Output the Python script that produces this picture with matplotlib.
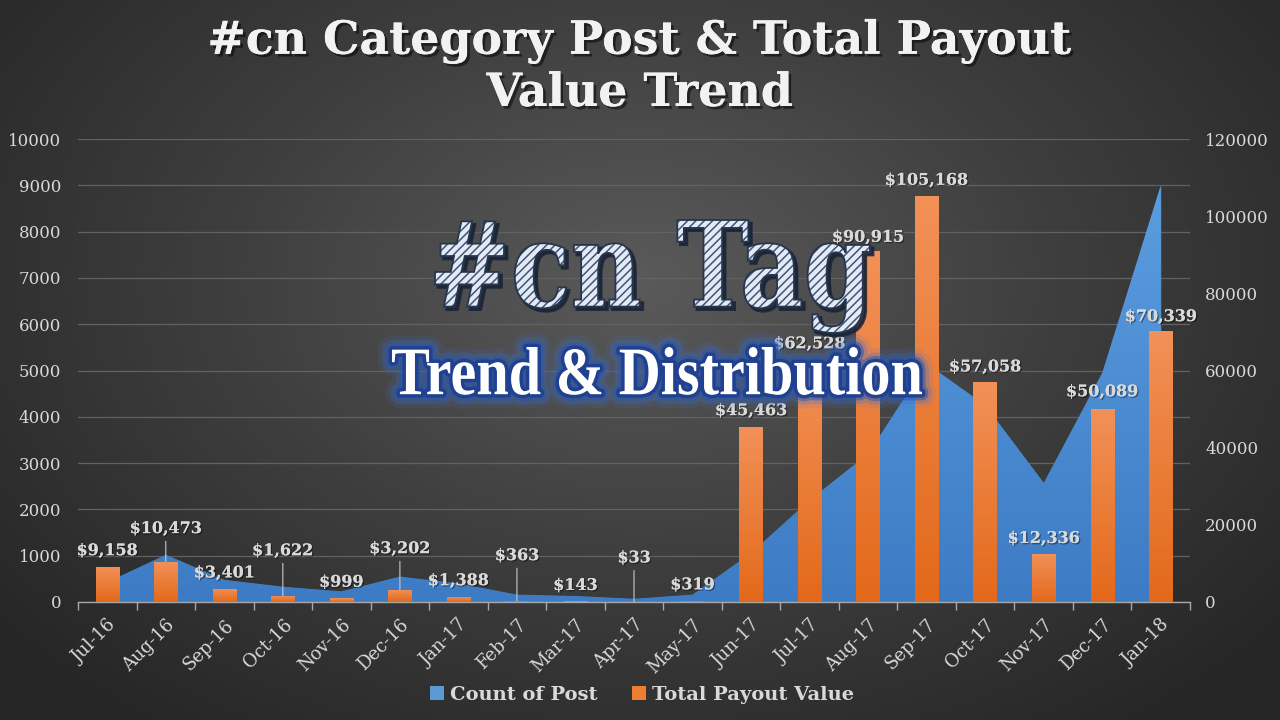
import numpy as np
import matplotlib
matplotlib.use("Agg")
import matplotlib.pyplot as plt
from matplotlib.textpath import TextPath
from matplotlib.font_manager import FontProperties
from matplotlib.patches import PathPatch, Patch
from matplotlib.transforms import Affine2D
from matplotlib.colors import LinearSegmentedColormap
import matplotlib.patheffects as pe

# ---------------- data ----------------
months = ["Jul-16", "Aug-16", "Sep-16", "Oct-16", "Nov-16", "Dec-16", "Jan-17",
          "Feb-17", "Mar-17", "Apr-17", "May-17", "Jun-17", "Jul-17", "Aug-17",
          "Sep-17", "Oct-17", "Nov-17", "Dec-17", "Jan-18"]
post_counts = [430, 1020, 480, 330, 230, 550, 400, 160, 130, 70, 160,
               1060, 2200, 3200, 5150, 4250, 2570, 4950, 9000]
payouts = [9158, 10473, 3401, 1622, 999, 3202, 1388, 363, 143, 33, 319,
           45463, 62528, 90915, 105168, 57058, 12336, 50089, 70339]
left_ticks = list(range(0, 10001, 1000))
right_ticks = list(range(0, 120001, 20000))
series_names = ["Count of Post", "Total Payout Value"]
title_lines = ["#cn Category Post & Total Payout", "Value Trend"]
banner_main = "#cn Tag"
banner_sub = "Trend & Distribution"
# label lift above bar top (pixels); large lifts get leader lines
label_lift_px = [16, 33, 16, 45, 16, 41, 16, 45, 16, 44, 16,
                 16, 17, 14, 16, 15, 16, 17, 14]

W, H = 1280, 720
plt.rcParams['hatch.linewidth'] = 1.1
TXT = '#d9d9d9'
SERIF = 'DejaVu Serif'

fig = plt.figure(figsize=(12.8, 7.2), dpi=100)

# ---------------- background ----------------
bg = fig.add_axes([0, 0, 1, 1], zorder=-10)
yy, xx = np.mgrid[0:H, 0:W]
r = np.sqrt(((xx - 640) / 830.0) ** 2 + ((yy - 280) / 560.0) ** 2)
r = np.clip(r, 0, 1)
bg_cmap = LinearSegmentedColormap.from_list('bg', ['#5a5a5a', '#3e3e3e', '#262626'])
bg.imshow(r, cmap=bg_cmap, aspect='auto', interpolation='bilinear')
bg.axis('off')

# ---------------- main axes ----------------
ax = fig.add_axes([78 / W, 1 - 602 / H, (1190 - 78) / W, (602 - 139) / H])
ax.set_facecolor('none')
ax2 = ax.twinx()
x = np.arange(len(months))

grad = np.linspace(0, 1, 256).reshape(-1, 1)

poly = ax.fill_between(x, post_counts, 0, color='#4a8fd8', lw=0, zorder=2)
area_cmap = LinearSegmentedColormap.from_list('a', ['#3d7cc4', '#5fa0e2'])
im = ax.imshow(grad, cmap=area_cmap, extent=(-0.5, len(months) - 0.5, 0, 10000),
               aspect='auto', origin='lower', zorder=2.1)
im.set_clip_path(poly.get_paths()[0], transform=ax.transData)

bars = ax2.bar(x, payouts, width=0.4, color='#ed7d31', zorder=3)
bar_cmap = LinearSegmentedColormap.from_list('b', ['#e3691a', '#f29158'])
for b in bars:
    gi = ax2.imshow(grad, cmap=bar_cmap,
                    extent=(b.get_x(), b.get_x() + b.get_width(), 0, b.get_height()),
                    aspect='auto', origin='lower', zorder=3.1)
    gi.set_clip_path(b)

ax.set_xlim(-0.5, len(months) - 0.5)
ax.set_ylim(0, 10000)
ax2.set_ylim(0, 120000)

ax.set_yticks(left_ticks)
ax2.set_yticks(right_ticks)
ax.yaxis.grid(True, color='#626262', lw=0.9)
ax.set_axisbelow(True)

for s in ['top', 'left', 'right']:
    ax.spines[s].set_visible(False)
for s in ax2.spines.values():
    s.set_visible(False)
ax.spines['bottom'].set_color('#a8a8a8')
ax.spines['bottom'].set_linewidth(1.0)

ax.set_xticks(x)
ax.set_xticklabels(months, rotation=45, ha='right', rotation_mode='anchor',
                   color=TXT, family=SERIF, size=13)
ax.tick_params(axis='x', which='major', length=0, pad=10)
ax.set_xticks(np.arange(-0.5, len(months)), minor=True)
ax.tick_params(axis='x', which='minor', length=6, color='#a8a8a8', width=1)
ax.tick_params(axis='y', length=0, pad=12, labelcolor=TXT)
ax2.tick_params(axis='y', length=0, pad=11, labelcolor=TXT)
for lab in ax.get_yticklabels() + ax2.get_yticklabels():
    lab.set_fontfamily(SERIF)
    lab.set_fontsize(12)

# data labels
lab_font = dict(family=SERIF, weight='bold', size=11.5)
for i, (xi, v) in enumerate(zip(x, payouts)):
    lift = label_lift_px[i]
    kw = dict(xy=(xi, v), xytext=(0, lift), textcoords='offset pixels',
              ha='center', va='center', color=TXT, zorder=8,
              path_effects=[pe.withSimplePatchShadow(offset=(1, -1), shadow_rgbFace='black', alpha=0.4),
                            pe.Normal()], **lab_font)
    if lift > 25:
        kw['arrowprops'] = dict(arrowstyle='-', color='#c8c8c8', lw=0.8,
                                shrinkA=1, shrinkB=0, relpos=(0.5, 0.0))
    ax2.annotate(f"${v:,}", **kw)

# legend
handles = [Patch(facecolor='#5b9bd5', edgecolor='none'),
           Patch(facecolor='#ed7d31', edgecolor='none')]
fig.legend(handles, series_names, loc='center', bbox_to_anchor=(642 / W, 1 - 695 / H),
           ncol=2, frameon=False,
           prop=FontProperties(family=SERIF, weight='bold', size=14),
           labelcolor=TXT, handlelength=0.7, handleheight=0.7,
           handletextpad=0.3, columnspacing=1.8)

# title
title_kw = dict(ha='center', va='center', color='#f2f2f2', family=SERIF,
                weight='bold', size=33,
                path_effects=[pe.withSimplePatchShadow(offset=(2, -2), shadow_rgbFace='black', alpha=0.5),
                              pe.Normal()])
fig.text(0.5, 1 - 41 / H, title_lines[0], **title_kw)
fig.text(0.5, 1 - 93 / H, title_lines[1], **title_kw)

# ---------------- overlay banner ----------------
ov = fig.add_axes([0, 0, 1, 1], zorder=20)
ov.set_xlim(0, W)
ov.set_ylim(0, H)
ov.axis('off')
ov.patch.set_visible(False)


def fitted_path(s, family, weight, box):
    tp = TextPath((0, 0), s, size=100, prop=FontProperties(family=family, weight=weight))
    ext = tp.get_extents()
    x0, ytop, x1, ybot = box
    sx = (x1 - x0) / ext.width
    sy = (ybot - ytop) / ext.height
    tr = Affine2D().translate(-ext.x0, -ext.y0).scale(sx, sy).translate(x0, H - ybot)
    return tr.transform_path(tp)


main_path = fitted_path(banner_main, SERIF, 'bold', (435, 220, 870, 333))
ov.add_patch(PathPatch(main_path, transform=Affine2D().translate(3, -3) + ov.transData,
                       fc='#1b2436', ec='#1b2436', lw=2, alpha=0.85))
ov.add_patch(PathPatch(main_path, fc='#e4eaf3', ec='none'))
ov.add_patch(PathPatch(main_path, fc='none', ec='#3f5479', lw=0, hatch='////'))
ov.add_patch(PathPatch(main_path, fc='none', ec='#26364f', lw=1.3))

sub_path = fitted_path(banner_sub, 'Liberation Serif', 'bold', (392, 347, 922, 395))
for lw, a, c in [(20, 0.12, '#3f78d8'), (14, 0.25, '#3a6fd0'), (9, 0.5, '#2a55b0'), (5, 0.9, '#1d3f8f')]:
    ov.add_patch(PathPatch(sub_path, fc='none', ec=c, lw=lw, alpha=a,
                           joinstyle='round', capstyle='round'))
ov.add_patch(PathPatch(sub_path, fc='#1d3f8f', ec='none', alpha=0.9))
ov.add_patch(PathPatch(sub_path, fc='white', ec='none'))

fig.savefig('out.png', dpi=100)
